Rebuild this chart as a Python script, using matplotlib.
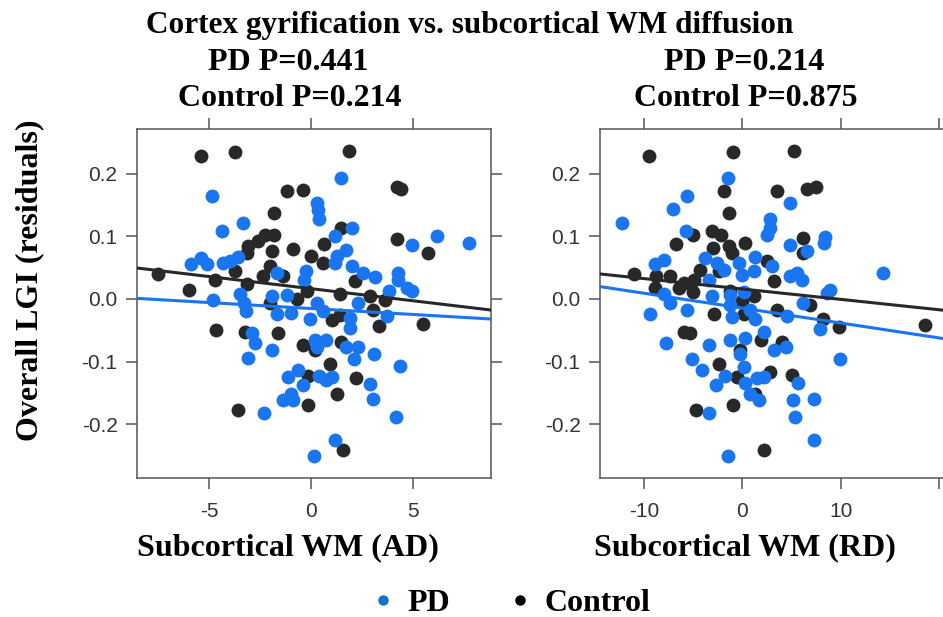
import matplotlib
matplotlib.use("Agg")
from matplotlib import pyplot as plt
from matplotlib.lines import Line2D

# left panel: subcortical WM (AD)
ad_ctrl_x = [-5.41, -3.74, 1.88, -1.19, -0.38, 4.2, 4.4, -1.81, 1.45, -2.25, -1.81, -2.58, -3.07,
             -3.15, -1.93, -0.90, 0.64, 4.2, 5.72, -0.02, 0.6, -7.48, -4.71, -3.73, -2.01, -2.37,
             -1.36, -3.12, -5.96, 2.16, -0.21, 1.42, 2.89, 3.63, -0.70, -2.01, 1.01, 1.42, 3.06,
             3.35, 5.47, -4.67, -3.24, -1.63, -0.38, 0.20, 1.47, 0.93, -0.13, 2.21, 1.29, -0.16,
             -3.59, 1.58]
ad_ctrl_y = [0.228, 0.235, 0.237, 0.173, 0.174, 0.179, 0.175, 0.138, 0.114, 0.102, 0.102, 0.092,
             0.084, 0.073, 0.077, 0.080, 0.088, 0.096, 0.073, 0.069, 0.057, 0.040, 0.031, 0.045,
             0.052, 0.037, 0.036, 0.024, 0.014, 0.029, 0.012, 0.008, 0.005, -0.002, 0.0, -0.007,
             -0.034, -0.026, -0.017, -0.043, -0.040, -0.050, -0.052, -0.055, -0.073, -0.081,
             -0.068, -0.104, -0.123, -0.127, -0.152, -0.170, -0.177, -0.241]
ad_pd_x = [1.45, -4.84, 0.28, 0.36, 0.41, -4.38, -3.32, 1.99, 1.18, 6.16, 7.76, 4.93, 1.72, 1.26,
           1.18, -5.90, -5.41, -5.11, -4.30, -3.97, -3.56, 1.99, 2.57, 3.14, 4.25, 4.28, -1.68,
           -0.25, -0.34, 4.69, 4.93, 3.84, -1.19, -1.93, -3.48, -4.82, -3.28, -3.19, -1.65, -0.98,
           -0.05, 0.28, 0.57, 1.91, 2.32, 3.74, 1.91, -2.91, -2.75, -1.93, -3.07, 0.20, 0.74, 0.28,
           1.72, 2.32, 2.11, 3.10, 4.36, -0.62, -1.11, 0.41, 0.74, 1.05, -0.41, 2.89, 3.02, -1.36,
           -1.00, -0.87, -2.30, 4.15, 1.18, 0.16]
ad_pd_y = [0.194, 0.165, 0.153, 0.142, 0.128, 0.108, 0.121, 0.114, 0.101, 0.100, 0.090, 0.087,
           0.078, 0.069, 0.058, 0.056, 0.065, 0.056, 0.057, 0.060, 0.067, 0.052, 0.041, 0.035,
           0.041, 0.030, 0.042, 0.045, 0.030, 0.017, 0.012, 0.012, 0.006, 0.004, 0.008, -0.002,
           -0.007, -0.019, -0.024, -0.023, -0.032, -0.006, -0.019, -0.031, -0.007, -0.027, -0.047,
           -0.054, -0.070, -0.081, -0.095, -0.065, -0.065, -0.076, -0.076, -0.076, -0.096, -0.088,
           -0.107, -0.113, -0.125, -0.123, -0.129, -0.124, -0.137, -0.136, -0.160, -0.161, -0.152,
           -0.162, -0.182, -0.188, -0.226, -0.251]

# right panel: subcortical WM (RD)
rd_ctrl_x = [-9.51, -0.95, 5.25, -1.90, 3.52, 6.57, 7.51, -1.39, -3.08, -2.17, -5.01, -6.73, 0.30,
             -3.01, -1.39, -1.05, 6.16, 6.16, 2.50, 3.18, -11.03, -8.73, -7.38, -8.83, -6.46,
             -5.96, -4.94, -5.01, -4.26, -2.40, 1.15, -0.03, 6.90, -2.84, 0.14, 3.52, 8.19, 9.78,
             18.58, -5.96, -5.28, 1.90, 4.03, -0.20, -2.40, 2.77, 5.04, -0.54, -4.70, -0.98, 2.17,
             1.32, -1.22]
rd_ctrl_y = [0.228, 0.235, 0.237, 0.173, 0.173, 0.175, 0.179, 0.137, 0.109, 0.102, 0.102, 0.088,
             0.089, 0.081, 0.084, 0.074, 0.097, 0.073, 0.060, 0.029, 0.040, 0.037, 0.036, 0.017,
             0.017, 0.025, 0.030, 0.011, 0.046, 0.044, 0.005, -0.004, -0.010, -0.024, -0.024,
             -0.017, -0.032, -0.044, -0.042, -0.052, -0.055, -0.066, -0.068, -0.081, -0.104,
             -0.116, -0.121, -0.124, -0.178, -0.170, -0.241, -0.152, 0.012]
rd_pd_x = [-1.49, -12.28, -5.62, -7.04, -5.69, 2.84, 2.84, 2.50, 4.81, 4.87, 6.57, 8.43, 8.26,
           14.28, -8.83, -7.92, -3.76, -2.57, -0.37, -0.03, 1.32, 1.15, 2.99, -3.42, 4.81, 5.55,
           6.06, 8.93, 8.60, -7.92, -7.38, -3.08, -1.22, 0.14, -9.34, -5.62, -1.22, -1.05, 0.81,
           1.32, 4.53, 6.16, 7.92, -7.72, -3.42, -1.22, 0.30, 2.23, 3.18, 4.47, -0.20, 0.14, -5.11,
           -4.09, -1.79, -2.67, 0.30, 1.49, 2.17, 0.74, 1.66, 5.65, 5.14, 7.31, -3.42, 5.38, 7.31,
           -1.49, 9.88, -1.90]
rd_pd_y = [0.194, 0.121, 0.165, 0.143, 0.108, 0.128, 0.114, 0.102, 0.153, 0.086, 0.077, 0.099,
           0.089, 0.041, 0.056, 0.063, 0.065, 0.058, 0.057, 0.038, 0.067, 0.044, 0.052, 0.030,
           0.036, 0.042, 0.031, 0.015, 0.010, 0.008, -0.006, 0.004, 0.006, 0.011, -0.024, -0.018,
           -0.010, -0.028, -0.018, -0.032, -0.027, -0.006, -0.048, -0.071, -0.073, -0.065, -0.063,
           -0.053, -0.081, -0.076, -0.088, -0.108, -0.096, -0.114, -0.123, -0.138, -0.135, -0.127,
           -0.125, -0.151, -0.161, -0.134, -0.161, -0.160, -0.182, -0.188, -0.226, -0.251, -0.096,
           0.047]

# fitted lines (intercept, slope)
ad_ctrl_fit = (0.0165, -0.00387)
ad_pd_fit = (-0.0152, -0.0019)
rd_ctrl_fit = (0.016, -0.00166)
rd_pd_fit = (-0.0146, -0.00238)

blue = "#1a75f0"
black = "#282828"
serif = "Liberation Serif"

fig = plt.figure(figsize=(9.43, 6.17), dpi=100)
W, H = 943, 617


def box(l, r, t, b):
    return [l / W, 1 - b / H, (r - l) / W, (b - t) / H]


ax1 = fig.add_axes(box(137, 491, 129, 478))
ax2 = fig.add_axes(box(600, 948, 129, 478))

panels = [
    (ax1, ad_ctrl_x, ad_ctrl_y, ad_pd_x, ad_pd_y, ad_ctrl_fit, ad_pd_fit, (-8.53, 8.82), [-5, 0, 5]),
    (ax2, rd_ctrl_x, rd_ctrl_y, rd_pd_x, rd_pd_y, rd_ctrl_fit, rd_pd_fit, (-14.47, 20.9), [-10, 0, 10, 20]),
]

for ax, cx, cy, px, py, cfit, pfit, xlim, xt in panels:
    ax.scatter(cx, cy, s=100, color=black, linewidths=0, zorder=2)
    ax.scatter(px, py, s=100, color=blue, linewidths=0, zorder=2)
    ax.axline((0, cfit[0]), slope=cfit[1], color=black, lw=2.2, zorder=3)
    ax.axline((0, pfit[0]), slope=pfit[1], color=blue, lw=2.2, zorder=3)
    ax.set_xlim(*xlim)
    ax.set_ylim(-0.286, 0.2716)
    ax.set_xticks(xt)
    ax.set_xticklabels([str(v) if v != 20 else "" for v in xt])
    ax.set_yticks([-0.2, -0.1, 0.0, 0.1, 0.2])
    ax.set_yticklabels(["-0.2", "-0.1", "0.0", "0.1", "0.2"])
    for sp in ax.spines.values():
        sp.set_color("#555555")
        sp.set_linewidth(1.1)
    ax.tick_params(direction="out", length=8, width=1.1, color="#555555",
                   labelsize=15, labelcolor="#333333", pad=6, top=True)
    ax.tick_params(axis="x", pad=9)
    for lab in ax.get_xticklabels() + ax.get_yticklabels():
        lab.set_family("Liberation Sans")

ax1.tick_params(axis="y", right=True)
ax2.spines["right"].set_visible(False)

bold = dict(family=serif, weight="bold", fontsize=23, ha="center", va="center")
fig.text(470 / W, 1 - 25 / H, "Cortex gyrification vs. subcortical WM diffusion",
         **{**bold, "fontsize": 22.5})
fig.text(288 / W, 1 - 63 / H, "PD P=0.441", **bold)
fig.text(290 / W, 1 - 98 / H, "Control P=0.214", **bold)
fig.text(744 / W, 1 - 63 / H, "PD P=0.214", **bold)
fig.text(746 / W, 1 - 98 / H, "Control P=0.875", **bold)
fig.text(288 / W, 1 - 548 / H, "Subcortical WM (AD)", **bold)
fig.text(745 / W, 1 - 548 / H, "Subcortical WM (RD)", **bold)
fig.text(30 / W, 1 - 280 / H, "Overall LGI (residuals)", rotation=90, **bold)

handles = [
    Line2D([], [], marker="o", ls="", color="#1470c8", markersize=6.5),
    Line2D([], [], marker="o", ls="", color="black", markersize=6.5),
]
fig.legend(handles, ["PD", "Control"], loc="center", bbox_to_anchor=(512 / W, 1 - 603 / H),
           ncol=2, frameon=False, handlelength=0.6, handletextpad=0.45, columnspacing=1.9,
           borderpad=0, prop=dict(family=serif, weight="bold", size=23))

plt.savefig("out.png", dpi=100)
